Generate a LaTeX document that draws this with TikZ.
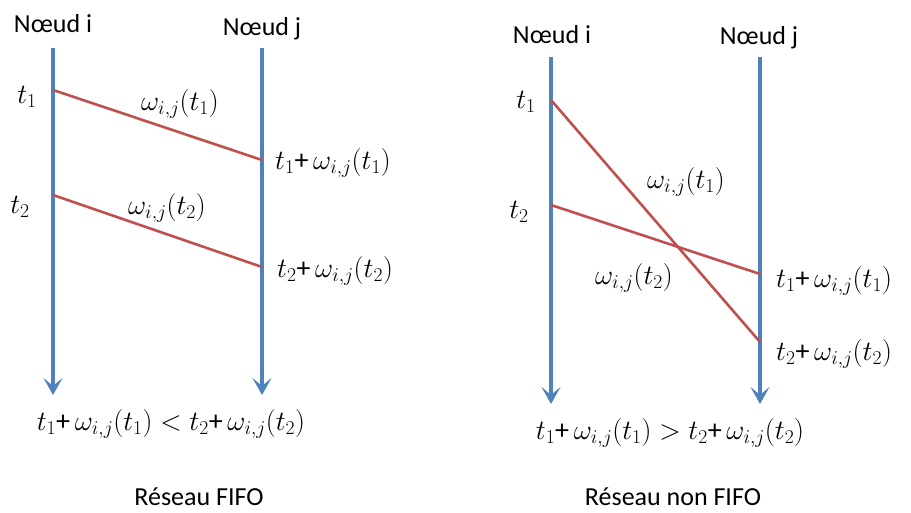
\RequirePackage{fix-cm}
\documentclass[tikz,border=0pt]{standalone}
\usepackage{amsmath}
\usepackage[no-math]{fontspec}
\setmainfont{Carlito}
\usetikzlibrary{arrows.meta}
\definecolor{axeblue}{HTML}{4F81BD}
\definecolor{msgred}{HTML}{C0504D}

\begin{document}
\begin{tikzpicture}[x=1pt,y=-1pt,>={Stealth[length=17pt,width=19pt,inset=8pt]},
  font=\fontsize{26}{31}\selectfont,
  axe/.style={->,axeblue,line width=4pt},
  msg/.style={msgred,line width=2.6pt},
  lbl/.style={inner sep=0pt},
  eq/.style={inner sep=0pt,font=\fontsize{28}{33}\selectfont}]
\useasboundingbox (0,0) rectangle (911,513);
% reseau FIFO
\node[lbl] (ni1) at (53,24) {Nœud i};
\node[lbl] (nj1) at (262,29) {Nœud j};
\coordinate (ai1) at (53,48);
\coordinate (bi1) at (53,395);
\coordinate (aj1) at (262,48);
\coordinate (bj1) at (262,395);
\draw[axe] (ai1) -- (bi1);
\draw[axe] (aj1) -- (bj1);
\coordinate (s11) at (53,90);
\coordinate (r11) at (262,160);
\coordinate (s12) at (53,195);
\coordinate (r12) at (262,267);
\draw[msg] (s11) -- (r11);
\draw[msg] (s12) -- (r12);
\node[eq] (t11) at (27,97) {$t_1$};
\node[eq] (t12) at (20,207) {$t_2$};
\node[eq] (w11) at (180,104) {$\omega_{i,j}(t_1)$};
\node[eq] (w12) at (167,208) {$\omega_{i,j}(t_2)$};
\node[eq,anchor=west] (a11) at (275,163) {$t_1\mbox{+}\,\omega_{i,j}(t_1)$};
\node[eq,anchor=west] (a12) at (277,271) {$t_2\mbox{+}\,\omega_{i,j}(t_2)$};
\node[eq] (f1) at (171,424) {$t_1\mbox{+}\,\omega_{i,j}(t_1) < t_2\mbox{+}\,\omega_{i,j}(t_2)$};
\node[lbl] (c1) at (199,497) {Réseau FIFO};
% reseau non FIFO
\node[lbl] (ni2) at (552,35) {Nœud i};
\node[lbl] (nj2) at (759,38) {Nœud j};
\coordinate (ai2) at (551,57);
\coordinate (bi2) at (551,404);
\coordinate (aj2) at (760,57);
\coordinate (bj2) at (760,404);
\draw[axe] (ai2) -- (bi2);
\draw[axe] (aj2) -- (bj2);
\coordinate (s21) at (551,100);
\coordinate (r21) at (760,342);
\coordinate (s22) at (551,205);
\coordinate (r22) at (760,274);
\draw[msg] (s21) -- (r21);
\draw[msg] (s22) -- (r22);
\node[eq] (t21) at (526,102) {$t_1$};
\node[eq] (t22) at (519,212) {$t_2$};
\node[eq] (w21) at (686,182) {$\omega_{i,j}(t_1)$};
\node[eq] (w22) at (634,278) {$\omega_{i,j}(t_2)$};
\node[eq,anchor=west] (a21) at (776,281) {$t_1\mbox{+}\,\omega_{i,j}(t_1)$};
\node[eq,anchor=west] (a22) at (776,354) {$t_2\mbox{+}\,\omega_{i,j}(t_2)$};
\node[eq] (f2) at (670,433) {$t_1\mbox{+}\,\omega_{i,j}(t_1) > t_2\mbox{+}\,\omega_{i,j}(t_2)$};
\node[lbl] (c2) at (673,497) {Réseau non FIFO};
\end{tikzpicture}
\end{document}
